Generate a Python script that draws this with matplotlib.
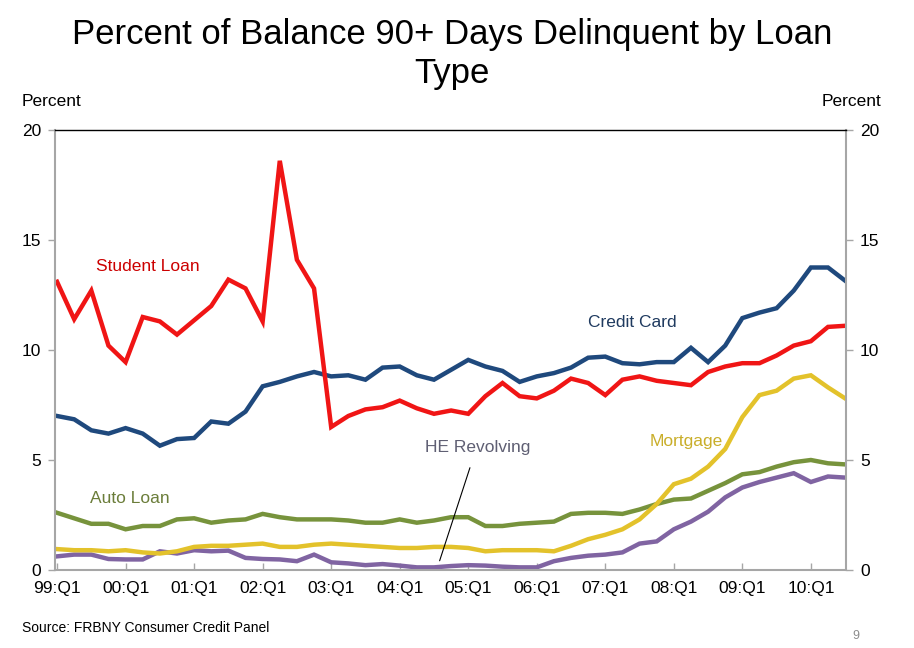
import numpy as np
import matplotlib
matplotlib.use('Agg')
import matplotlib.pyplot as plt

plt.rcParams['font.family'] = ['Liberation Sans', 'DejaVu Sans']

# quarterly data, 99:Q1 .. 10:Q3
tick_labels = ['99:Q1', '00:Q1', '01:Q1', '02:Q1', '03:Q1', '04:Q1',
               '05:Q1', '06:Q1', '07:Q1', '08:Q1', '09:Q1', '10:Q1']

student_loan = [13.1, 11.4, 12.7, 10.2, 9.45, 11.5, 11.3, 10.7, 11.35, 12.0, 13.2, 12.8,
                11.3, 18.6, 14.1, 12.8, 6.5, 7.0, 7.3, 7.4, 7.7, 7.35, 7.1,
                7.25, 7.1, 7.9, 8.5, 7.9, 7.8, 8.15, 8.7, 8.5, 7.95, 8.65, 8.8,
                8.6, 8.5, 8.4, 9.0, 9.25, 9.4, 9.4, 9.75, 10.2, 10.4, 11.05, 11.1]
credit_card = [7.0, 6.85, 6.35, 6.2, 6.45, 6.2, 5.65, 5.95, 6.0, 6.75, 6.65, 7.2,
               8.35, 8.55, 8.8, 9.0, 8.8, 8.85, 8.65, 9.2, 9.25, 8.85, 8.65,
               9.1, 9.55, 9.25, 9.05, 8.55, 8.8, 8.95, 9.2, 9.65, 9.7, 9.4, 9.35,
               9.45, 9.45, 10.1, 9.45, 10.2, 11.45, 11.7, 11.9, 12.7, 13.75, 13.75, 13.15]
auto_loan = [2.6, 2.35, 2.1, 2.1, 1.85, 2.0, 2.0, 2.3, 2.35, 2.15, 2.25, 2.3,
             2.55, 2.4, 2.3, 2.3, 2.3, 2.25, 2.15, 2.15, 2.3, 2.15, 2.25,
             2.4, 2.4, 2.0, 2.0, 2.1, 2.15, 2.2, 2.55, 2.6, 2.6, 2.55, 2.75,
             3.0, 3.2, 3.25, 3.6, 3.95, 4.35, 4.45, 4.7, 4.9, 5.0, 4.85, 4.8]
mortgage = [0.95, 0.9, 0.9, 0.85, 0.9, 0.8, 0.75, 0.85, 1.05, 1.1, 1.1, 1.15,
            1.2, 1.05, 1.05, 1.15, 1.2, 1.15, 1.1, 1.05, 1.0, 1.0, 1.05,
            1.05, 1.0, 0.85, 0.9, 0.9, 0.9, 0.85, 1.1, 1.4, 1.6, 1.85, 2.3,
            3.0, 3.9, 4.15, 4.7, 5.5, 6.95, 7.95, 8.15, 8.7, 8.85, 8.3, 7.8]
he_revolving = [0.62, 0.7, 0.7, 0.5, 0.48, 0.48, 0.85, 0.75, 0.9, 0.85, 0.88, 0.55,
                0.5, 0.48, 0.4, 0.7, 0.35, 0.3, 0.22, 0.27, 0.2, 0.12, 0.12,
                0.18, 0.22, 0.2, 0.15, 0.12, 0.12, 0.4, 0.55, 0.65, 0.7, 0.8, 1.2,
                1.3, 1.85, 2.2, 2.65, 3.3, 3.75, 4.0, 4.2, 4.4, 4.0, 4.25, 4.2]

x = np.arange(len(student_loan))

fig = plt.figure(figsize=(9.14, 6.48), dpi=100)
ax = fig.add_axes([55 / 914, 1 - 570 / 648, 791 / 914, 440 / 648])

lw = 3.2
ax.plot(x, he_revolving, color='#8064a2', lw=lw, solid_joinstyle='miter')
ax.plot(x, auto_loan, color='#77933c', lw=lw, solid_joinstyle='miter')
ax.plot(x, mortgage, color='#e3c22b', lw=lw, solid_joinstyle='miter')
ax.plot(x, credit_card, color='#1f497d', lw=lw, solid_joinstyle='miter')
ax.plot(x, student_loan, color='#f01515', lw=lw, solid_joinstyle='miter')

ax.set_xlim(-0.12, 46.05)
ax.set_ylim(0, 20)
ax.set_yticks([0, 5, 10, 15, 20])
ax.set_xticks(np.arange(0, len(x), 4))
ax.set_xticklabels(tick_labels)

for side in ['left', 'right', 'bottom']:
    ax.spines[side].set_color('#a6a6a6')
    ax.spines[side].set_linewidth(1.5)
ax.spines['top'].set_color('black')
ax.spines['top'].set_linewidth(1.0)

ax.tick_params(axis='x', direction='in', length=5, width=1, color='#a6a6a6',
               labelsize=12.5, pad=8)
ax.tick_params(axis='y', direction='out', length=5, width=1, color='#a6a6a6',
               labelsize=12.5, pad=5, left=True, right=True, labelleft=True, labelright=True)

# series labels
ax.text(2.3, 13.8, 'Student Loan', color='#cc0000', fontsize=12.5, va='center')
ax.text(31.0, 11.23, 'Credit Card', color='#1f3a5f', fontsize=12.5, va='center')
ax.text(21.5, 5.55, 'HE Revolving', color='#5f5f73', fontsize=12.5, va='center')
ax.text(34.6, 5.86, 'Mortgage', color='#c9ae2a', fontsize=12.5, va='center')
ax.text(1.95, 3.27, 'Auto Loan', color='#6b7d3a', fontsize=12.5, va='center')
ax.annotate('', xy=(22.28, 0.3), xytext=(24.15, 4.77),
            arrowprops=dict(arrowstyle='-', color='black', lw=0.8))

fig.text(0.495, 1 - 54 / 648, 'Percent of Balance 90+ Days Delinquent by Loan\nType',
         ha='center', va='center', fontsize=25, linespacing=1.22)
fig.text(22 / 914, 1 - 101 / 648, 'Percent', fontsize=12.5, va='center')
fig.text(881 / 914, 1 - 101 / 648, 'Percent', fontsize=12.5, va='center', ha='right')
fig.text(22 / 914, 1 - 628 / 648, 'Source: FRBNY Consumer Credit Panel', fontsize=10, va='center')
fig.text(856 / 914, 1 - 636 / 648, '9', fontsize=9, va='center', ha='center', color='#8c8c8c')

plt.savefig('out.png', dpi=100)
